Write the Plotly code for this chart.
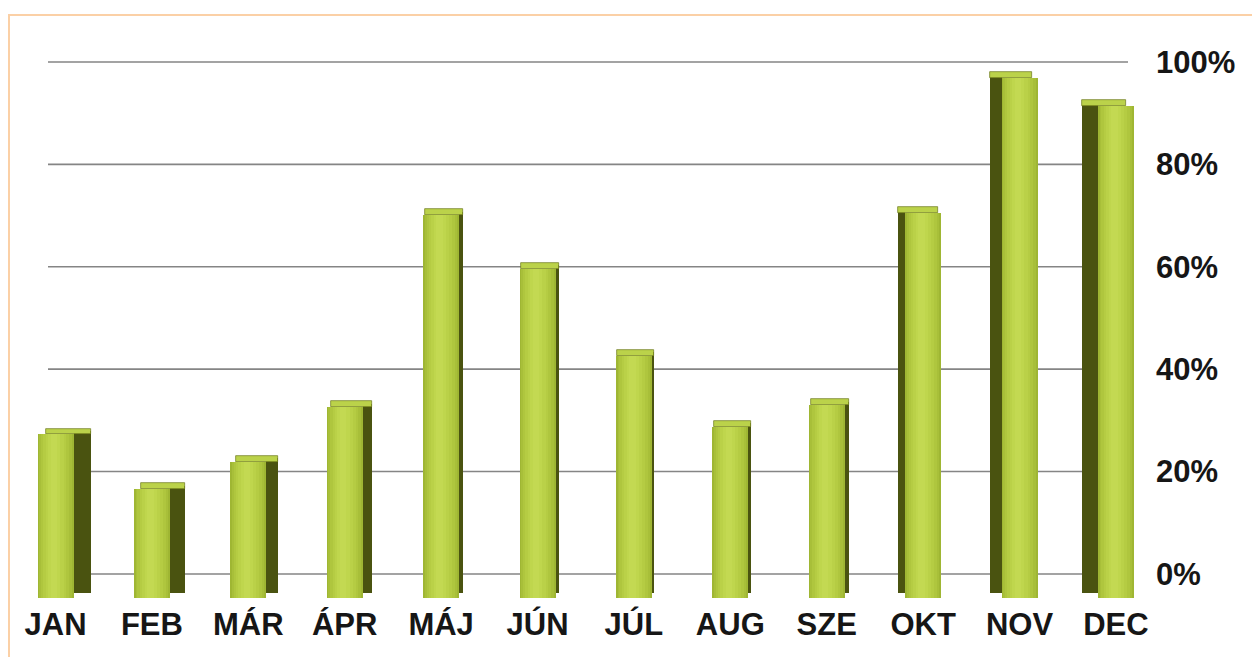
import plotly.graph_objects as go

# ---- data ----
MONTHS = ["JAN", "FEB", "MÁR", "ÁPR", "MÁJ", "JÚN", "JÚL", "AUG", "SZE", "OKT", "NOV", "DEC"]
VALUES = [27.3, 16.6, 21.9, 32.6, 70.1, 59.6, 42.6, 28.8, 33.0, 70.5, 96.9, 91.4]
TICK_VALUES = [0, 20, 40, 60, 80, 100]
TICK_TEXT = ["0%", "20%", "40%", "60%", "80%", "100%"]

# ---- style (3D look) ----
PX_PER_CAT = 96.4
FRONT_W = 36 / PX_PER_CAT
SIDE_PX = [17, 15, 12, 9, 4, 3, 2, 3, 4, -7, -12, -16]   # + = side face on right, - = on left
SIDE_W = [s / PX_PER_CAT for s in SIDE_PX]
BASE = -4.7          # bars start a bit below the 0% line (3D floor)
TOP_DEPTH = 1.1      # top face depth in axis units

FRONT_SHADES = [(1.0, "#9fb633"), (0.9, "#a8bf39"), (0.78, "#afc63e"),
                (0.64, "#b5cc43"), (0.5, "#bad148"), (0.34, "#bfd64d"), (0.18, "#c3d952")]
SIDE_COLOR = "#4a5310"
TOP_COLOR = "#bbd24a"

fig = go.Figure()

# side faces
side_off = [FRONT_W / 2 if s > 0 else -FRONT_W / 2 + s for s in SIDE_W]
side_wid = [abs(s) for s in SIDE_W]
fig.add_trace(go.Bar(
    x=MONTHS, y=[v + TOP_DEPTH * 0.6 - (BASE + 1.0) for v in VALUES], base=BASE + 1.0,
    offset=side_off, width=side_wid,
    marker=dict(color=SIDE_COLOR, line=dict(width=0)), hoverinfo="skip", showlegend=False))

# top faces
top_off, top_wid = [], []
for s in SIDE_W:
    if s > 0:
        left = -FRONT_W / 2 + 0.5 * s
        right = FRONT_W / 2 + s
    else:
        left = -FRONT_W / 2 + s
        right = FRONT_W / 2 + 0.5 * s
    top_off.append(left)
    top_wid.append(right - left)
fig.add_trace(go.Bar(
    x=MONTHS, y=[TOP_DEPTH] * len(VALUES), base=VALUES,
    offset=top_off, width=top_wid,
    marker=dict(color=TOP_COLOR, line=dict(color="#6a7619", width=0.7)),
    hoverinfo="skip", showlegend=False))

# front faces (layered strips for a rounded, shaded look)
for frac, col in FRONT_SHADES:
    w = FRONT_W * frac
    fig.add_trace(go.Bar(
        x=MONTHS, y=[v - BASE for v in VALUES], base=BASE,
        offset=-FRONT_W / 2 + (FRONT_W - w) * 0.45, width=w,
        marker=dict(color=col, line=dict(width=0)),
        customdata=VALUES, hovertemplate="%{x}: %{customdata}%<extra></extra>",
        showlegend=False))

# layout geometry
L, R, T, B = 20, 1150, 36, 598
W, H = 1252, 657
pw, ph = R - L, B - T

# gridlines (behind bars) at the tick values
for tv in TICK_VALUES:
    fig.add_shape(type="line", xref="paper", yref="y",
                  x0=(48 - L) / pw, x1=(1128 - L) / pw, y0=tv, y1=tv,
                  line=dict(color="#858585", width=1.6), layer="below")

# scanned page border (light orange)
fig.add_shape(type="line", xref="paper", yref="paper",
              x0=(8 - L) / pw, x1=(W - L) / pw, y0=(B - 15) / ph, y1=(B - 15) / ph,
              line=dict(color="#fbd0a6", width=2))
fig.add_shape(type="line", xref="paper", yref="paper",
              x0=(9 - L) / pw, x1=(9 - L) / pw, y0=(B - 15) / ph, y1=(B - H) / ph,
              line=dict(color="#fbd0a6", width=2))

center = 5.5
c_px = 585.7
x0 = center - (c_px - L) / PX_PER_CAT
x1 = center + (R - c_px) / PX_PER_CAT

font = dict(family="Liberation Sans, Arial, sans-serif", size=31, color="#161616")

fig.update_layout(
    width=W, height=H,
    margin=dict(l=L, r=W - R, t=T, b=H - B, pad=0),
    paper_bgcolor="white", plot_bgcolor="rgba(0,0,0,0)",
    barmode="overlay", bargap=0,
    xaxis=dict(type="category", range=[x0, x1], showgrid=False, zeroline=False,
               showline=False, ticks="", tickfont=font, ticklabelstandoff=5),
    yaxis=dict(range=[BASE, 100 + (62 - T) / 5.12], side="right", showgrid=False,
               zeroline=False, showline=False, ticks="",
               tickvals=TICK_VALUES, ticktext=TICK_TEXT, tickfont=font,
               ticklabelstandoff=5),
    font=dict(family="Liberation Sans, Arial, sans-serif"),
)
fig.update_xaxes(tickfont_weight="bold")
fig.update_yaxes(tickfont_weight="bold")

fig.write_html("out.html", config={"displayModeBar": False},
               post_script="document.body.style.margin='0px';document.body.style.overflow='hidden';")
